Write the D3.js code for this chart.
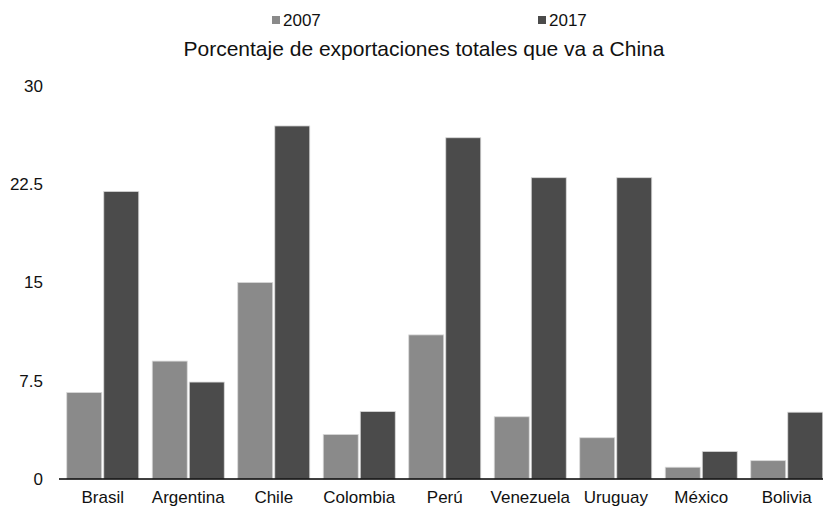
<!DOCTYPE html>
<html>
<head>
<meta charset="utf-8">
<script src="https://cdn.jsdelivr.net/npm/d3@7"></script>
<style>
  html, body { margin: 0; padding: 0; background: #fff; }
  svg { display: block; }
  text { font-family: "Liberation Sans", Arial, sans-serif; fill: #111; }
</style>
</head>
<body>
<svg id="chart" width="823" height="509"></svg>
<script>
const categories = ["Brasil", "Argentina", "Chile", "Colombia", "Perú", "Venezuela", "Uruguay", "México", "Bolivia"];
const seriesNames = ["2007", "2017"];
const values2007 = [6.6, 9.0, 15.0, 3.4, 11.0, 4.75, 3.15, 0.9, 1.4];
const values2017 = [21.95, 7.4, 26.95, 5.15, 26.05, 23.0, 23.0, 2.1, 5.1];
const yTicks = [0, 7.5, 15, 22.5, 30];
const tickLabels = ["0", "7.5", "15", "22.5", "30"];
const colors = ["#8a8a8a", "#4b4b4b"];
const title = "Porcentaje de exportaciones totales que va a China";

const svg = d3.select("#chart");
const W = 823, H = 509;
const FONT = "'Liberation Sans', Arial, sans-serif";

const x0 = d3.scaleBand().domain(categories).range([60, 829.5]).paddingInner(13.5/85.5).paddingOuter(6.75/85.5);
const x1 = d3.scaleBand().domain(seriesNames).range([0, x0.bandwidth()]).paddingInner(4/72);
const y = d3.scaleLinear().domain([0, 30]).range([479, 86]);

const data = categories.map((c, i) => ({cat: c, vals: [values2007[i], values2017[i]]}));

// bars
const g = svg.append("g");
data.forEach(d => {
  d.vals.forEach((v, j) => {
    g.append("rect")
      .attr("x", x0(d.cat) + x1(seriesNames[j]))
      .attr("y", y(v))
      .attr("width", x1.bandwidth())
      .attr("height", y(0) - y(v))
      .attr("fill", colors[j])
      .attr("stroke", "#d8d8d8")
      .attr("stroke-width", 0.8);
  });
});

// baseline
svg.append("line")
  .attr("x1", 59).attr("x2", W)
  .attr("y1", y(0)).attr("y2", y(0))
  .attr("stroke", "#000").attr("stroke-width", 1.5);

// y axis labels
const yAxis = d3.axisLeft(y).tickValues(yTicks).tickFormat((d, i) => tickLabels[i]).tickSize(0).tickPadding(0);
const ya = svg.append("g").attr("transform", "translate(43,0)").call(yAxis);
ya.select(".domain").remove();
ya.selectAll("text").attr("font-size", 17).attr("fill", "#111").style("font-family", FONT);

// x axis labels
const xAxis = d3.axisBottom(x0).tickSize(0).tickPadding(0);
const xa = svg.append("g").attr("transform", "translate(0,491)").call(xAxis);
xa.select(".domain").remove();
xa.selectAll("text").attr("font-size", 17).attr("fill", "#111").style("font-family", FONT);

// title
svg.append("text")
  .attr("x", 424).attr("y", 56)
  .attr("text-anchor", "middle")
  .attr("font-size", 21)
  .text(title);

// legend
const legendX = [272, 538];
seriesNames.forEach((s, j) => {
  svg.append("rect")
    .attr("x", legendX[j]).attr("y", 16)
    .attr("width", 8).attr("height", 8)
    .attr("fill", colors[j]);
  svg.append("text")
    .attr("x", legendX[j] + 11).attr("y", 26)
    .attr("font-size", 17)
    .text(s);
});
</script>
</body>
</html>
